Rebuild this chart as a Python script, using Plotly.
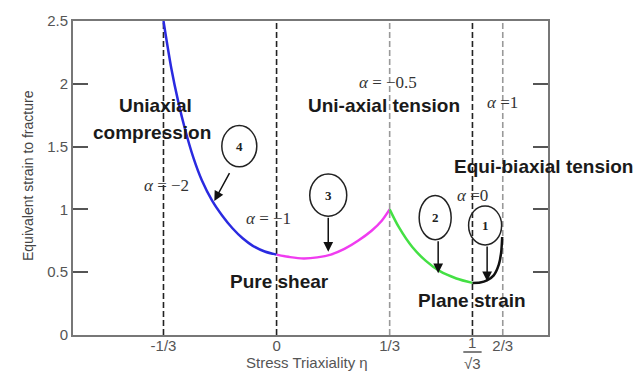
import math
import plotly.graph_objects as go

# ---------------- data ----------------
eta_compression = [-1/3, -0.31, -0.29, -0.27, -0.245, -0.22, -0.19, -0.16, -0.13, -0.10, -0.07, -0.035, 0.0]
eps_compression = [2.5, 2.12, 1.86, 1.64, 1.41, 1.23, 1.07, 0.95, 0.85, 0.77, 0.71, 0.665, 0.64]

eta_shear = [0.0, 0.04, 0.08, 0.12, 0.16, 0.20, 0.24, 0.28, 0.31, 1/3]
eps_shear = [0.64, 0.62, 0.61, 0.618, 0.64, 0.685, 0.75, 0.83, 0.91, 1.0]

eta_plane = [1/3, 0.36, 0.40, 0.44, 0.48, 0.53, 1/math.sqrt(3)]
eps_plane = [1.0, 0.86, 0.70, 0.59, 0.51, 0.45, 0.415]

eta_biaxial = [1/math.sqrt(3), 0.60, 0.62, 0.64, 0.655, 0.662, 0.665]
eps_biaxial = [0.415, 0.418, 0.435, 0.475, 0.56, 0.66, 0.78]

boundary_eta = [-1/3, 0.0, 1/3, 1/math.sqrt(3), 2/3]
boundary_dark = [True, True, False, True, False]

xtick_vals = [-1/3, 0.0, 1/3, 2/3]
xtick_text = ["-1/3", "0", "1/3", "2/3"]
ytick_vals = [0, 0.5, 1, 1.5, 2, 2.5]
ytick_text = ["0", "0.5", "1", "1.5", "2", "2.5"]

SANS = "Liberation Sans, Arial, sans-serif"
SERIF = "Liberation Serif, Times New Roman, serif"

fig = go.Figure()
for xs, ys, col in [
    (eta_compression, eps_compression, "#2a2ae0"),
    (eta_shear, eps_shear, "#f03cf0"),
    (eta_plane, eps_plane, "#44e044"),
    (eta_biaxial, eps_biaxial, "#111111"),
]:
    fig.add_trace(go.Scatter(x=xs, y=ys, mode="lines",
                             line=dict(color=col, width=2.5, shape="spline", smoothing=0.8),
                             showlegend=False, hoverinfo="skip"))

shapes = []
for xv, dark in zip(boundary_eta, boundary_dark):
    shapes.append(dict(type="line", xref="x", yref="paper", x0=xv, x1=xv, y0=0, y1=1,
                       line=dict(color="#222222" if dark else "#999999", width=1.6,
                                 dash="6px,3px"), layer="below"))

# circled markers
circles = [
    ("4", -0.1614, -0.0583, 1.340, 1.667),
    ("3", 0.0978, 0.2068, 0.946, 1.281),
    ("2", 0.4203, 0.5146, 0.759, 1.110),
    ("1", 0.566, 0.6633, 0.7165, 1.028),
]
annotations = []
for lab, x0, x1, y0, y1 in circles:
    shapes.append(dict(type="circle", xref="x", yref="y", x0=x0, x1=x1, y0=y0, y1=y1,
                       line=dict(color="#222222", width=1.5)))
    annotations.append(dict(x=(x0 + x1) / 2, y=(y0 + y1) / 2, text="<b>" + lab + "</b>",
                            showarrow=False, font=dict(family=SERIF, size=13, color="#222222")))

arrows = [
    (-0.1364, 1.30, -0.1835, 1.067),
    (0.1523, 0.946, 0.1523, 0.662),
    (0.4763, 0.759, 0.4763, 0.491),
    (0.6206, 0.7165, 0.6206, 0.428),
]
for tx, ty, hx, hy in arrows:
    annotations.append(dict(x=hx, y=hy, ax=tx, ay=ty, axref="x", ayref="y", text="",
                            showarrow=True, arrowhead=2, arrowsize=1.3, arrowwidth=1.5,
                            arrowcolor="#111111", standoff=0))

bold_labels = [
    ("Uniaxial", -0.357, 1.830),
    ("compression", -0.3676, 1.612),
    ("Pure shear", 0.008, 0.428),
    ("Uni-axial tension", 0.3155, 1.830),
    ("Equi-biaxial tension", 0.786, 1.340),
    ("Plane strain", 0.576, 0.273),
]
for txt, x, y in bold_labels:
    annotations.append(dict(x=x, y=y, text="<b>" + txt + "</b>", showarrow=False,
                            font=dict(family=SANS, size=19, color="#1a1a1a")))

alpha_labels = [
    ("<i>α</i> = −2", -0.3245, 1.192),
    ("<i>α</i> = −1", -0.0244, 0.927),
    ("<i>α</i> = −0.5", 0.329, 2.009),
    ("<i>α</i> =1", 0.665, 1.854),
    ("<i>α</i> =0", 0.576, 1.114),
]
for txt, x, y in alpha_labels:
    annotations.append(dict(x=x, y=y, text=txt, showarrow=False,
                            font=dict(family=SERIF, size=17, color="#333333")))

# 1/sqrt(3) tick label as fraction
r3 = 1 / math.sqrt(3)
annotations.append(dict(x=r3, y=0, xref="x", yref="paper", text="1", showarrow=False,
                        yanchor="middle", yshift=-7, font=dict(family=SANS, size=15, color="#555555")))
annotations.append(dict(x=r3, y=0, xref="x", yref="paper", text="√3", showarrow=False,
                        yanchor="middle", yshift=-28, font=dict(family=SANS, size=15, color="#555555")))
shapes.append(dict(type="line", xref="x", yref="paper", ysizemode="pixel", yanchor=0,
                   x0=r3 - 0.027, x1=r3 + 0.027, y0=-17, y1=-17,
                   line=dict(color="#555555", width=1.5)))

# axis titles
annotations.append(dict(x=0.5, y=0, xref="paper", yref="paper", text="Stress Triaxiality η",
                        showarrow=False, yanchor="middle", xshift=-4, yshift=-27,
                        font=dict(family=SANS, size=15, color="#555555")))
annotations.append(dict(x=0, y=0.5, xref="paper", yref="paper", text="Equivalent strain to fracture",
                        showarrow=False, textangle=-90, xanchor="center", xshift=-45, yshift=2,
                        font=dict(family=SANS, size=14, color="#444444")))

fig.update_layout(
    width=640, height=373,
    margin=dict(l=73, r=92, t=14, b=38),
    paper_bgcolor="white", plot_bgcolor="white",
    shapes=shapes, annotations=annotations,
    xaxis=dict(range=[-0.6, 0.8], tickvals=xtick_vals, ticktext=xtick_text,
               showgrid=False, zeroline=False, showline=True, linecolor="#777777",
               linewidth=2, mirror=True, ticks="", ticklabelstandoff=-4,
               tickfont=dict(family=SANS, size=15, color="#555555")),
    yaxis=dict(range=[0, 2.5], tickvals=ytick_vals, ticktext=ytick_text,
               showgrid=False, zeroline=False, showline=True, linecolor="#777777",
               linewidth=2, mirror="ticks", ticks="inside", ticklen=15, tickwidth=2,
               tickcolor="#555555",
               tickfont=dict(family=SANS, size=15, color="#555555")),
)

fig.write_html("out.html")
